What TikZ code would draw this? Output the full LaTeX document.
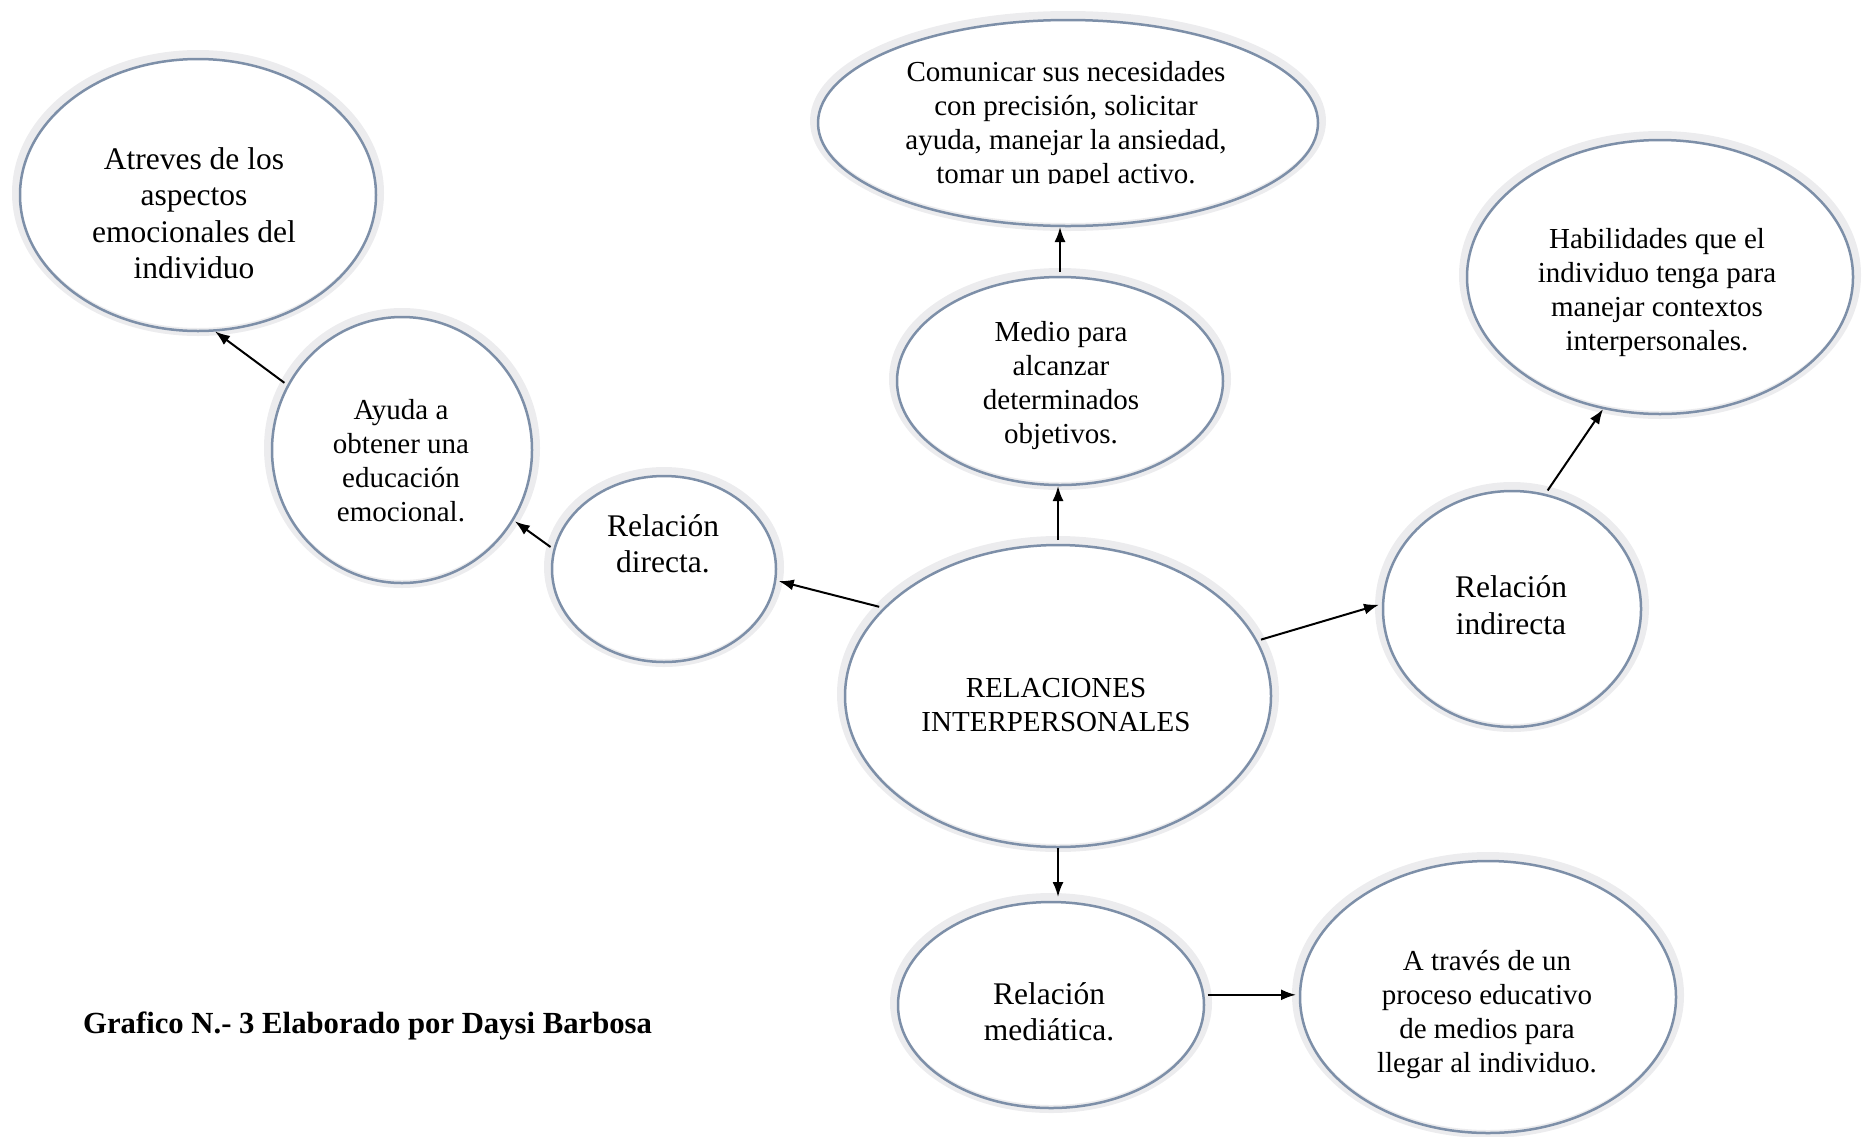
\documentclass[tikz,border=0pt]{standalone}
\usepackage{fontspec}
\setmainfont{Liberation Serif}
\usetikzlibrary{arrows.meta,shapes.geometric}
\definecolor{bandgray}{RGB}{236,236,238}
\definecolor{ringblue}{RGB}{125,143,168}
\tikzset{
  bubble/.style={ellipse, draw=bandgray, line width=8pt, fill=white, inner sep=0pt, outer sep=0pt},
  txt/.style={align=center, font=\fontsize{29}{34}\selectfont, inner sep=0pt},
  txtL/.style={align=center, font=\fontsize{31.5}{36.5}\selectfont, inner sep=0pt},
  arr/.style={-{Latex[length=15pt,width=11pt]}, line width=2pt, black},
}
\newcommand\mybubble[5]{%
  \node[bubble, minimum width={(#4-4)*2pt}, minimum height={(#5-4)*2pt}] (#1) at (#2,#3) {};
  \draw[ringblue, line width=2.5pt] ([yshift=-2pt]#1.center) ellipse [x radius=#4-8, y radius=#5-7];
}
\begin{document}
\begin{tikzpicture}[x=1pt,y=-1pt]
\useasboundingbox (0,0) rectangle (1867,1136);
\mybubble{atr}{198}{193}{186}{143}
\mybubble{com}{1068}{121}{258}{110}
\mybubble{hab}{1660}{275}{201}{144}
\mybubble{ayu}{402}{448}{138}{140}
\mybubble{med}{1060}{379}{171}{111}
\mybubble{dir}{664}{567}{120}{100}
\mybubble{rel}{1058}{694}{221}{158}
\mybubble{ind}{1512}{607}{137}{125}
\mybubble{mdt}{1051}{1003}{161}{110}
\mybubble{atv}{1488}{995}{196}{143}

\node[txtL] (atrT) at (194,213) {Atreves de los\\aspectos\\emocionales del\\individuo};
\begin{scope}
  \clip (780,0) rectangle (1360,183);
  \node[txt] (comT) at (1066,126) {Comunicar sus necesidades\\con precisión, solicitar\\ayuda, manejar la ansiedad,\\tomar un papel activo.};
\end{scope}
\node[txt] (habT) at (1657,293) {Habilidades que el\\individuo tenga para\\manejar contextos\\interpersonales.};
\node[txt] (ayuT) at (401,461) {Ayuda a\\obtener una\\educación\\emocional.};
\node[txt] (medT) at (1061,386) {Medio para\\alcanzar\\determinados\\objetivos.};
\node[txtL] (dirT) at (663,544) {Relación\\directa.};
\node[txt] (relT) at (1056,705) {RELACIONES\\INTERPERSONALES};
\node[txtL] (indT) at (1511,605) {Relación\\indirecta};
\node[txtL] (mdtT) at (1049,1012) {Relación\\mediática.};
\node[txt] (atvT) at (1487,1015) {A través de un\\proceso educativo\\de medios para\\llegar al individuo.};

\draw[arr] (rel.154) -- (dir.353);
\draw[arr] (dir.170) -- (ayu.327);
\draw[arr] (ayu.151) -- (atr.277);
\draw[arr] (rel.north) -- (rel.north |- med.south);
\draw[arr] (med.north) -- (med.north |- com.south);
\draw[arr] (rel.15) -- (ind.179);
\draw[arr] (ind.73) -- (hab.247);
\draw[arr] (rel.south) -- (rel.south |- mdt.north);
\draw[arr] (mdt.3) -- (mdt.3 -| atv.west);

\node[anchor=west, inner sep=0pt, font=\bfseries\fontsize{30.7}{36}\selectfont] (cap) at (83,1026) {Grafico N.- 3 Elaborado por Daysi Barbosa};
\end{tikzpicture}
\end{document}
